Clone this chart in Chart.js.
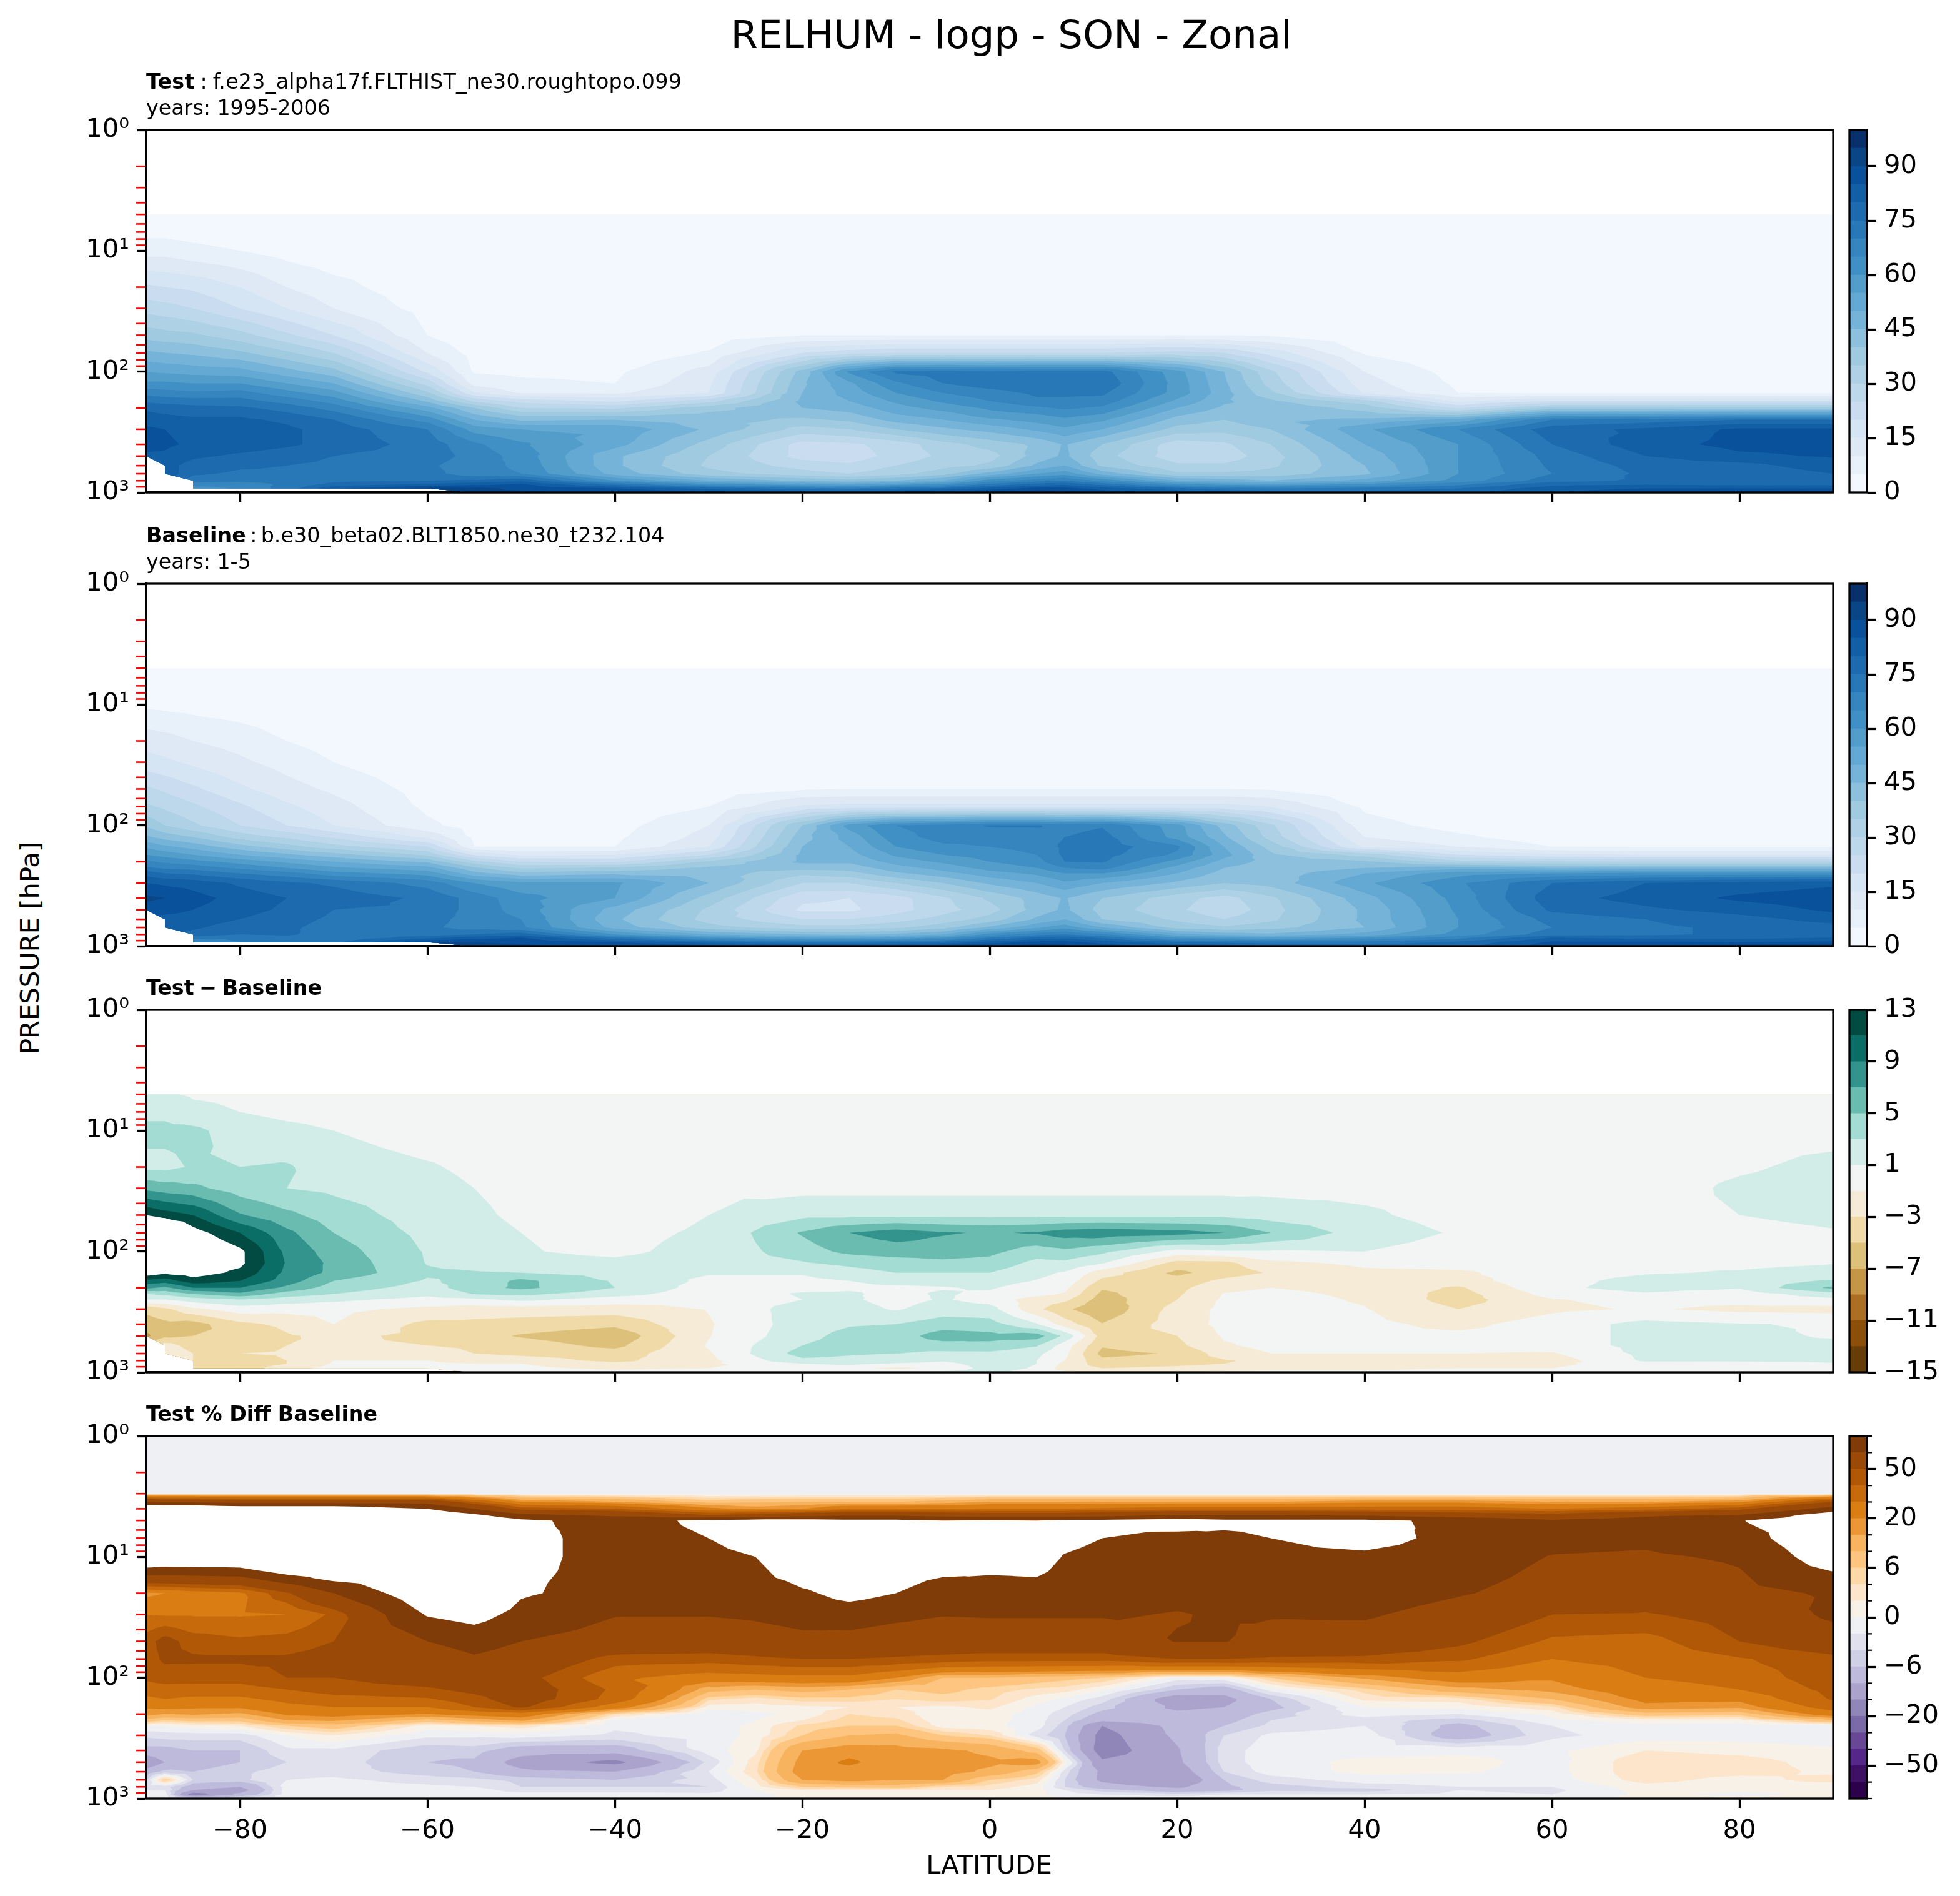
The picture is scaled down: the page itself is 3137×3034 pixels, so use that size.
<!DOCTYPE html>
<html><head><meta charset="utf-8">
<style>
html,body{margin:0;padding:0;background:#fff;width:3137px;height:3034px;overflow:hidden;font-family:"DejaVu Sans",sans-serif;color:#000}
canvas{position:absolute;display:block}
.t{position:absolute;white-space:pre;line-height:1;font-size:33.3px}
.s{letter-spacing:.25px;word-spacing:-2px}
.b{letter-spacing:.08px;word-spacing:-4.5px}
</style>
<script src="https://cdn.jsdelivr.net/npm/chart.js@4/dist/chart.umd.min.js"></script>
</head><body>
<div id="stage"></div>
<div class="t" style="left:0;width:3237px;text-align:center;top:25px;font-size:62.5px">RELHUM - logp - SON - Zonal</div>
<div class="t s" style="left:234px;top:114px"><b>Test</b> : f.e23_alpha17f.FLTHIST_ne30.roughtopo.099</div>
<div class="t" style="left:234px;top:156px">years: 1995-2006</div>
<div class="t b" style="left:234px;top:840px"><b>Baseline</b> : b.e30_beta02.BLT1850.ne30_t232.104</div>
<div class="t" style="left:234px;top:882px">years: 1-5</div>
<div class="t" style="left:234px;top:1564px;word-spacing:-3px"><b>Test − Baseline</b></div>
<div class="t" style="left:234px;top:2246px"><b>Test % Diff Baseline</b></div>
<div class="t" style="left:1383px;width:400px;text-align:center;top:2963px;font-size:41.7px">LATITUDE</div>
<div class="t" style="left:48px;top:1517px;font-size:41.7px;transform:translate(-50%,-50%) rotate(-90deg)">PRESSURE [hPa]</div>
<script>
const _ = null;
const latitudes = [-90,-88,-85,-80,-75,-70,-60,-55,-50,-40,-30,-20,-15,-10,-5,0,5,8,12,20,25,30,40,50,60,70,80,90];
const pctLatitudes = [-90,-88,-85,-80,-75,-70,-60,-55,-50,-40,-30,-25,-20,-15,-10,-5,0,5,8,12,20,25,30,40,50,60,70,80,90];
const pressureLevels = [5,7,10,20,30,50,70,100,125,150,175,200,225,250,300,400,500,600,700,800,850,925,1000];
const pctPressureLevels = [1,3,3.5,4,4.5,5,7,10,20,30,50,70,100,125,150,175,200,225,250,300,400,500,600,700,800,850,925,1000];
const latTicks = [-80,-60,-40,-20,0,20,40,60,80];
const pressureTicks = [1,10,100,1000];
const pressureTickLabels = ['10⁰','10¹','10²','10³'];

const relhumLevels = [0,5,10,15,20,25,30,35,40,45,50,55,60,65,70,75,80,85,90,95,100];
const relhumColors = ['#f3f8fe','#e8f0f9','#dfe9f5','#d6e5f3','#cadcf0','#bcd8ea','#afd1e6','#9fcae0','#8cc0dd','#75b4d8','#64a9d3','#539dcb','#4090c6','#3685bf','#2878b8','#1d6bae','#135fa6','#0a519c','#0a4585','#08306b'];
const relhumTicks = [0,15,30,45,60,75,90];
const diffLevels = [-15,-13,-11,-9,-7,-5,-3,-1,1,3,5,7,9,11,13];
const diffColors = ['#663c07','#8b4f0a','#ab6e23','#c69647','#ddc07a','#efdaa8','#f5ebd6','#f3f5f4','#d2ece8','#a2dcd2','#6abbb0','#32948d','#0a6e67','#014b42'];
const diffTicks = [-15,-11,-7,-3,1,5,9,13];
const pctLevels = [-100,-75,-50,-40,-30,-20,-15,-10,-6,-4,-2,0,2,4,6,10,15,20,30,40,50,75,100];
const pctColors = ['#2d004b','#3e1164','#542788','#684894','#7b6aa8','#9186b8','#aba3cc','#bebadb','#cfd0e5','#e0e1ed','#eff0f4','#f8f1e8','#fce5cb','#fed8a6','#fdc57f','#f8b35f','#eb9735','#da7e14','#c66a0c','#b15806','#9a4a06','#7f3b08'];
const pctTicks = [-50,-20,-6,0,6,20,50];

// one row per latitude, one value per pressure level
const testValues = [
[1,3.5,8,21,28,38,46,55,61,68,74,79,81,83,86,87,84,_,_,_,_,_,_],
[1,3.5,8,20,27,37,45,54,61,67,73,78,80,82,85,86,84,82,84,_,_,_,_],
[1,3,6.5,19,25,36,44,53,60,66,72,77,79,81,83,84,81,78,76,72,68,62,_],
[1,2,5,15,20,32,41,52,60,67,72,76,79,81,83,83,79,76,74,71,68,66,_],
[1,1.5,3,10,15,26,36,47,55,62,68,73,76,79,81,81,77,75,74,72,71,72,_],
[1,1,2,6.5,10,20,30,42,50,57,63,68,72,75,78,78,75,74,74,74,76,84,_],
[1,1,1,2,3,5,10,19,28,36,44,52,58,63,70,73,73,71,72,75,80,92,_],
[1,1,1,1,1,1.5,3,4.5,8,15.5,29,40,45,50,58,66,68,67,67,76,83,91,91],
[1,1,1,1,1,1,2,4,6,9.5,23,30,38,44,55,61,63,64,65,79,85,89,91],
[1,1,1,1,1,1,1,4,5,9,19,29,38,45,54,52,46,46,48,60,72,85,90],
[1,1,1,1,1,2,5.5,12,14,15,28,38,41,42,44,38,35,34,37,50,60,78,88],
[1,1,1,1,2,5,20,42,44,45,46,45,42,39,33,23,23,28,32,44,55,72,86],
[1,1,1,1,2,5,23,61,54,52,50,47,44,41,35,24,22,26,30,42,52,70,86],
[1,1,1,1,2,5,25,71,64,60,56,53,50,47,40,27,27,30,33,45,56,74,88],
[1,1,1,1,2,5,25,72,70,65,61,57,53,50,44,33,31,33,38,50,60,76,90],
[1,1,1,1,2,5,25,71,73,68,65,61,58,54,47,37,33,36,47,63,70,82,92],
[1,1,1,1,2,5,25,72,74,71,69,64,60,57,51,41,42,46,55,68,76,87,94],
[1,1,1,1,2,5,25,72,75,71,69,66,62,59,54,45.5,46,50,58,70,78,87,93],
[1,1,1,1,2,5,25,72,74,71,68,64,60,56,50,40,37,39,48,64,72,83,88],
[1,1,1,1,2,5,27,57,58,58,54,50,46,43,38,27,27,31,36,50,60,76,85],
[1,1,1,1,2,5,25,45,46,47,46,44,42,40,37,29,27,31,36,48,57,72,82],
[1,1,1,1,1.5,4.5,18,31,33,36,41,44,44,44,40,35,33,34,37,45,55,70,80],
[1,1,1,1,1,1,4.5,10,12,14.5,32,38,42,46,54,50,47,45,44,52,60,72,78],
[1,1,1,1,1,1,1,3,4,5,14,24,38,52,65,60,60,60,60,62,68,75,78],
[1,1,1,1,1,1,1,1,2,4.5,20,37,55,70,78,75,72,71,70,73,78,83,85],
[1,1,1,1,1,1,1,1,2,4.5,20,37,56,72,81,83,80,77,76,76,79,85,88],
[1,1,1,1,1,1,1,1,2,4.5,20,38,57,75,86,86.5,84,78,76,76,78,85,92],
[1,1,1,1,1,1,1,1,2,4.5,20,38,57,75,86,87,85.5,83,80,78,78,85,93]
];
const baselineValues = [
[1,1,4,13,17,26,31,39,46,54,60,66,71,78,85,91,88,_,_,_,_,_,_],
[1,1,3.5,12,16,24,29,35,43,51,58,64,69,75,84,90,87,83,84,_,_,_,_],
[1,1,3,10,14,21,26,31,40,48,55,62,68,74,83,87,85,83,81,78,72,65,_],
[1,1,2,8,11,16,21,25,33,42,50,58,64,70,79,83,82,80,77,75,71,70,_],
[1,1,1,5,8,12,16,20,29,37,46,54,60,67,76,80,79,77,76,76,73,72,_],
[1,1,1,3,5,9,12,15,24,32,42,50,56,62,74,78,75,74,73,72,70,74,_],
[1,1,1,1,1,3,4,6,14,25,34,44,52,58,68,74,74,72,71,72,78,90,_],
[1,1,1,1,1,1,2,3,4,5,19,32,41,47,60,68,68,68,68,75,83,90,91],
[1,1,1,1,1,1,2,3,4,5,14,25,34,42,56,62,63,65,66,78,85,89,91],
[1,1,1,1,1,1,2,3,4,5,15,24,36,44,56,55,48,46,48,60,72,85,90],
[1,1,1,1,1,2,5,10,12,15,25,36,41,43,45,38,34,33,37,50,60,78,88],
[1,1,1,1,2,4.5,16,40,43,45,46,46,42,36,30,21,19,25,32,45,55,72,86],
[1,1,1,1,2,5,17,57,52,50,48,46,42,38,30,20,19,25,32,44,54,72,87],
[1,1,1,1,2,5,17,65,63,60,56,52,48,44,35,23,23,28,34,46,56,74,88],
[1,1,1,1,2,5,17,67,67,64,60,56,52,48,40,29,28,32,38,50,60,76,90],
[1,1,1,1,2,5,17,70.5,67,65,62,60,57,53,46,36,33,37,46,62,70,82,92],
[1,1,1,1,2,5,17,70.5,68,67,65,63,60,56,50,42,42,46,54,68,76,87,93],
[1,1,1,1,2,5,17,68,70,71,71,70,65,60,54,45.5,46,50,58,70,78,87,92],
[1,1,1,1,2,5,17,69.5,72,73,72,70.5,67,60,50,40,38,40,50,66,74,83,88],
[1,1,1,1,2,5,17,57,58,66,64,58,53,50,44,32,31,34,38,52,60,76,85],
[1,1,1,1,2,5,17,43,46,50,52,48,45,43,40,28,26,30,36,48,58,74,84],
[1,1,1,1,1.5,4.5,15,31,33,38,41,43,42,42,42,34,33,34,38,46,56,72,80],
[1,1,1,1,1,1,4,7,10,14,33,41,45,50,54,48,46,46,45,52,60,72,78],
[1,1,1,1,1,1,1,3,6,10,20,32,48,58,64,62,61,60,60,62,68,76,78],
[1,1,1,1,1,1,1,1,2,5,16,31,45,60,75,78,76,72,70,73,80,86,88],
[1,1,1,1,1,1,1,1,2,4.5,15,30,46,62,80,82,79,75,74,74,78,86,90],
[1,1,1,1,1,1,1,1,2,4.5,15,30,46,62,82,86,82,78,76,76,78,85,93],
[1,1,1,1,1,1,1,1,2,4.5,15,30,46,62,84,88,86,82,78,76,80,86,95]
];
const diffValues = [
[2,2.5,3.5,2.5,6.5,13,18,22,20,14.5,10.5,7.5,3,1,-4.5,-6,-7.5,_,_,_,_,_,_],
[1.2,2.5,3.5,2.5,6,12,18,22,20,13.5,10,6.5,3.5,1,-3.5,-5.5,-5.5,-2,-1,_,_,_,_],
[.8,1.5,3.5,3.2,5.5,11,14,16,14.5,14,12.2,9,5,2,-1.5,-5.8,-5,-4,-3,-3,-3,-5,_],
[.7,1,2,3,4,7.2,11,13.5,13.5,12.5,11,9,6.5,3,0,-3.5,-5,-4,-3,-4,-4.5,-4.5,_],
[.5,.5,1.5,3.2,3,5.5,7.5,8.5,8.8,8.5,8,6.5,4,2,-.3,-2.5,-3.2,-3,-2.8,-3,-3,-1.5,_],
[.3,.3,1,2,2.6,4,5,6,6.5,6.5,5,4,3,1.5,-.5,-1,-2.5,-2.8,-1.5,-1,-.8,-.5,_],
[0,0,0,1.2,1.7,2,2.4,2.8,2.9,3.3,2.8,2.2,1.5,.3,-1.5,-3.5,-3.5,-3,-1.5,-1,-.8,-.5,_],
[0,0,0,.6,1,1.3,1.6,1.9,2.2,3.2,3.5,4,3.1,.6,-2,-3.5,-4.2,-3.5,-3,-1.5,-1,-.5,0],
[0,0,0,0,.5,.7,1,1.1,1.5,3,5.5,5.5,3.5,1.5,-2,-3.8,-5.2,-4,-3.5,-2,-1,-.5,0],
[0,0,0,0,0,.3,.6,.7,1.3,2.2,2.8,3,1.8,0,-2,-4.5,-6.5,-5.6,-4,-3.5,-2.5,-1.5,0],
[0,0,0,0,.6,1,1.2,1.5,1.8,1.2,.5,0,-.2,-.7,-.9,-1.2,-1.1,-.8,-1.2,-1.5,-1.4,-1,0],
[0,0,0,0,.4,2.5,5.2,4.1,2.8,1.2,.5,.5,1.2,1,2,2,2.3,3,3.8,2.5,1,-.5,0],
[0,0,0,0,.4,2.5,7,5.5,3.5,2.2,1,.8,1.2,1.3,1.8,2.8,3.7,3.9,3.2,2.5,1.5,-.5,.5],
[0,0,0,0,.4,2.5,8,6,4,3,1.5,.7,.6,.3,.8,3,4,3.8,3,2,.8,-1.5,1],
[0,0,0,0,.4,2.5,7.2,6,4.5,3,1.5,.9,1.2,1.2,2,4,6,4.2,2.5,1.2,.5,-.5,1.5],
[0,0,0,0,.4,2.5,6.8,5.5,4.3,3,1.8,1.2,.6,.2,1.8,3.8,5.6,4.5,2.5,2,1.8,1.8,1.5],
[0,0,0,0,.4,2.5,7.2,4,2.4,1.5,.9,0,-.3,-2,-2.5,1.2,6,3.2,1.5,1,1,.8,0],
[0,0,0,0,.4,2.5,8,4.5,2.5,.8,.3,-.5,-1.2,-2.5,-4.6,-2,2.5,0,-.5,-1,-1.5,-2,-.5],
[0,0,0,0,.4,2.5,8.3,3.5,1.1,-2,-3.5,-4.8,-5.5,-6,-6.5,-4.9,-3.8,-4.8,-5.6,-4.5,-4,-3,-1],
[0,0,0,0,.4,2.5,7.8,.2,-3.8,-5.5,-4.2,-3.6,-3.3,-3,-2.2,-2,-3,-3.5,-4.8,-4,-3.5,-2.5,-1],
[0,0,0,0,.4,2.5,7,.8,-3.6,-4,-2.5,-1.5,-.9,-.7,-.5,-.5,-.8,-1.2,-2,-3.2,-3,-2,-.5],
[0,0,0,0,.5,2,5,.8,-1.5,-2.8,-1.6,-1,-.5,-.3,-.3,-.3,-.5,-.5,-1,-2.4,-2.4,-1.5,-.5],
[0,0,0,0,.5,1.3,2,1,-.6,-1.4,-1.6,-1.6,-1.4,-1.2,-.9,-.5,-.5,-.5,-1,-2.6,-2.2,-1.5,-.5],
[0,0,0,0,.2,.3,.8,.2,-.3,-1.3,-1.8,-3.3,-3.8,-3.9,-3,-1.6,-.5,-.5,-1,-1.5,-1.5,-1,-.2],
[0,0,0,0,0,.3,.3,.3,.1,0,.3,.6,-.2,-1.1,-1.4,0,0,0,-1.2,-2,-1.5,-1,-.2],
[0,0,0,0,0,.2,.2,.2,.5,.8,1.7,1.7,.8,-.5,-.8,1.6,1.6,1.6,1.5,1.3,.3,.3,.3],
[0,0,.2,.7,1.4,1,.3,.3,.5,1.2,2.2,1.2,-.1,-.3,-1.5,1.1,1.5,1.5,1.4,1.2,.5,.5,.3],
[0,0,.2,1.6,2,1.6,.8,.6,.9,1.8,3.2,5.5,2.2,.5,-1.7,.8,.8,1.5,1.6,1.2,.9,.9,.6]
];
const pctValues = [
[-1,-.5,75,130,140,140,140,134,18,30,45,45,42,35,28,21,17,8,0,-3.5,-7,-14,-8,-4,-3,-2,-1,-1],
[-1,-.5,70,130,140,140,140,130,20,29,55,52,45,36,30,22,15,6,0,-3,-7,-10,-5,6,-3,-2,-1,-1],
[-1,-.5,70,130,140,140,140,130,24,29,45,52,44,36,28,21,16,7,1,-3,-6,-7.5,-6,-4,-8,-10,-18,-1],
[-1,-.5,65,120,140,140,140,130,28,29,42,52,44,36,28,21,14,7,2,-3,-6,-6,-4.5,-4.5,-10,-12,-9,-1],
[-1,-.5,65,120,140,140,150,150,48,30,44,52,50,40,33,27,21,15,6,0,-2.5,-4,-3,-2,-1,-1,-1,-1],
[-1,-.5,65,120,140,140,150,150,75,42,50,55,50,45,36,30,23,16,8,2,-2.5,-3,-3,-1.5,-1,-1,-1,-1],
[-1,-.5,65,100,120,130,140,140,120,102,75,62,58,48,39,30,20,8,1,-1.5,-5.5,-6,-5,-3,-1.5,-1,-.5,-1],
[-1,-.5,40,75,105,125,140,140,130,110,84,72,60,54,46,40,23,12,2,-1.5,-5,-6.5,-6,-3.5,-2,-1,-1,-1],
[-1,-.5,20,45,80,105,108,108,103,92,75,65,55,58,58,52,25,16,3,-1,-8,-12,-9,-4.5,-4,-3,-1,-1],
[-1,-.5,15,40,70,90,90,90,90,76,65,45,32,38,36,24,4,-1,-1.5,-2.5,-8,-16.5,-10,-6,-4,-3,-1,-1],
[-1,-.5,8,22,50,105,100,85,80,76,62,44,25,12,4.5,1,-2,-2,-1,-1,-1,-3.5,-2,-3,-4,-3,-1.5,-.5],
[-1,-.5,9,18,55,110,125,100,85,78,66,47,26,10,3,1,-.5,0,.5,.5,1.5,3,3.5,2,1,0,-.5,0],
[-1,-.5,10,20,65,110,140,130,95,82,70,50,27,12,5,1.5,.5,2,4.5,6,15,17,18,15,6,2,.5,.5],
[-1,-.5,10,28,70,105,140,135,110,85,68,50,27,10,5,2,4,5,6,10,18,21,18,17,7,2,.5,1],
[-1,-.5,10,28,70,105,130,130,100,80,64,48,20,6,4,2,3,4.5,6,11,17,17,16,15,8,2,.5,.5],
[-1,-.5,12,28,65,100,130,125,80,76,62,46,10,7,5,1.5,.5,.5,1,6,16,17,17,15,4,2,.5,.5],
[-1,-.5,15,30,60,102,110,115,85,77,62,44,10,5,4.2,2.5,1,.8,.5,4,14,16,14,6,3,2,1.5,.5],
[-1,-.5,15,30,60,100,110,115,88,77,62,44,8,3.5,1,-.5,-1,-1,-1,-3,8,17.5,7,3,1,1,.5,.5],
[-1,-.5,15,30,60,105,110,98,85,77,62,44,7,3,-.5,-2,-3,-4,-5,-6,-4,1,-3,-4,-4,-2,-1,.5],
[-1,-.5,15,32,65,105,100,90,83,77,62,44,6,.5,-3,-5,-7,-9,-15,-17,-18,-14,-11,-11,-8,-5,-2,-.5],
[-1,-.5,15,35,75,110,94,85,80,74,76,50,-1,-6,-13,-11,-9,-8,-8.5,-9,-10.5,-11,-13,-15,-11,-8,-3,-.5],
[-1,-.5,15,35,75,105,96,90,82,77,76,50,-.5,-8,-11.5,-10,-8,-7,-6,-4,-3,-3,-4,-6,-6.5,-7,-2,-.5],
[-1,-.5,15,35,75,105,100,95,85,77,66,48,6,-1,-6,-7,-5,-4,-3.5,-1.5,-.8,-.8,-1,-3,-5,-4.5,-2,-.5],
[-1,-.5,18,35,70,105,110,95,88,78,64,47,16,5,2.5,0,-1,-3,-2,-1,-.8,.5,.5,-1,-3,-5,-2,-.5],
[-1,-.5,18,35,60,95,92,88,77,65,53,42,25,13,3,.5,-2,-5,-7,-8,-.5,.8,.3,-1,-2,-2,-1.5,-.5],
[-1,-.5,15,30,55,78,82,74,66,50,38,30,21,17,10,3.5,.5,-.5,-2,-2.5,-.5,-.8,-.8,-1,-2,-2.5,-2,-.5],
[-1,-.5,15,35,70,85,80,72,57,49,36,34,30,25,22,18,8,1,-.5,-1,2,3.5,3.5,3,1,.8,.5,.5],
[-1,-.5,18,45,75,99,90,78,68,55,50,39,34,30,22,16,7,1,-1,-1,1.3,3,3,1,.7,.5,-.5,.7],
[-1,-.5,50,85,115,115,120,115,78,80,62,46,46,43,41,35,25,9,-.8,-1.5,.5,1,1.5,3,.5,.7,.5,.5]
];

const FONT = {family:'"DejaVu Sans"', size:41.7};
const SPINE = 3.3;
const PLOT_W = 2700, PLOT_H = 580, PLOT_L = 234;
const stage = document.getElementById('stage');
Chart.defaults.animation = false;
Chart.defaults.color = '#000';

function addCanvas(left, top, w, h){
  const c = document.createElement('canvas');
  c.width = w; c.height = h;
  c.style.left = left+'px'; c.style.top = top+'px';
  c.style.width = w+'px'; c.style.height = h+'px';
  stage.appendChild(c);
  return c.getContext('2d');
}
function clipAt(poly, level){
  const out = [];
  for(let i=0;i<poly.length;i++){
    const a = poly[i], b = poly[(i+1)%poly.length];
    const ia = a[2] >= level, ib = b[2] >= level;
    if(ia) out.push(a);
    if(ia !== ib){
      const t = (level-a[2])/(b[2]-a[2]);
      out.push([a[0]+t*(b[0]-a[0]), a[1]+t*(b[1]-a[1]), level]);
    }
  }
  return out;
}
function contourPlugin(lats, plevs, grid, levels, colors){
  return {
    id:'contourFill',
    beforeDatasetsDraw(chart){
      const {ctx, chartArea:a, scales} = chart;
      const tris = [];
      const V = (i,j)=>{
        const v = grid[i][j];
        return v===null ? null : [scales.x.getPixelForValue(lats[i]), scales.y.getPixelForValue(plevs[j]), v];
      };
      for(let i=0;i<lats.length-1;i++) for(let j=0;j<plevs.length-1;j++){
        const q = [V(i,j),V(i+1,j),V(i+1,j+1),V(i,j+1)];
        const ok = q.filter(Boolean);
        if(ok.length===4){
          const c = [0,1,2].map(k=>(q[0][k]+q[1][k]+q[2][k]+q[3][k])/4);
          for(let k=0;k<4;k++) tris.push([q[k],q[(k+1)%4],c]);
        } else if(ok.length===3){ tris.push(ok); }
      }
      ctx.save();
      ctx.beginPath(); ctx.rect(a.left,a.top,a.width,a.height); ctx.clip();
      levels.forEach((lv,k)=>{
        ctx.beginPath();
        for(const t of tris){
          const p = clipAt(t,lv);
          if(p.length<3) continue;
          ctx.moveTo(p[0][0],p[0][1]);
          for(let m=1;m<p.length;m++) ctx.lineTo(p[m][0],p[m][1]);
          ctx.closePath();
        }
        ctx.fillStyle = k<colors.length ? colors[k] : '#fff';
        ctx.fill();
      });
      ctx.restore();
    }
  };
}
const framePlugin = {
  id:'frame',
  afterDraw(chart){
    const {ctx, chartArea:a} = chart;
    ctx.save();
    ctx.strokeStyle='#000'; ctx.lineWidth=SPINE;
    ctx.strokeRect(a.left,a.top,a.width,a.height);
    ctx.restore();
  }
};
const redTicks = {
  id:'redTicks',
  afterDraw(chart){
    const {ctx, chartArea:a, scales} = chart;
    ctx.save(); ctx.strokeStyle='#ff0000'; ctx.lineWidth=2.6;
    for(const dec of [1,10,100]) for(let m=2;m<=9;m++){
      const y = scales.y.getPixelForValue(dec*m);
      ctx.beginPath(); ctx.moveTo(a.left-16,y); ctx.lineTo(a.left,y); ctx.stroke();
    }
    ctx.restore();
  }
};
function addPanel(top, lats, plevs, grid, levels, colors, withLabels){
  const M = 130, PAD = 60, B = 90;
  const ctx = addCanvas(PLOT_L-M, top-PAD, PLOT_W+M+PAD, PLOT_H+PAD+B);
  const pts = [];
  lats.forEach((lat,i)=>plevs.forEach((p,j)=>{ if(grid[i][j]!==null) pts.push({x:lat,y:p}); }));
  new Chart(ctx,{
    type:'scatter',
    data:{datasets:[{data:pts,pointRadius:0,showLine:false}]},
    options:{
      responsive:false, devicePixelRatio:1, animation:false,
      layout:{padding:{top:PAD,right:PAD,left:0,bottom:0}},
      plugins:{legend:{display:false},title:{display:false},tooltip:{enabled:false}},
      scales:{
        x:{type:'linear',min:-90,max:90,
          afterBuildTicks:s=>{s.ticks=latTicks.map(v=>({value:v}));},
          afterFit:s=>{s.height=B;},
          grid:{drawOnChartArea:false,tickLength:15,tickColor:'#000',tickWidth:SPINE},
          border:{color:'#000',width:SPINE},
          ticks:{display:withLabels,autoSkip:false,maxRotation:0,font:FONT,color:'#000',padding:12,
            callback:v=>(v<0?'−'+Math.abs(v):String(v))}},
        y:{type:'logarithmic',min:1,max:1000,reverse:true,
          afterBuildTicks:s=>{s.ticks=pressureTicks.map(v=>({value:v,major:true}));},
          afterFit:s=>{s.width=M;},
          grid:{drawOnChartArea:false,tickLength:15,tickColor:'#000',tickWidth:SPINE},
          border:{color:'#000',width:SPINE},
          ticks:{autoSkip:false,font:FONT,color:'#000',padding:12,
            callback:v=>pressureTickLabels[pressureTicks.indexOf(v)]||''}}
      }
    },
    plugins:[contourPlugin(lats,plevs,grid,levels,colors),redTicks,framePlugin]
  });
}
function addColorbar(top, levels, colors, tickValues, evenSpacing){
  const L=10, W=28, PAD=60, AX=149;
  const ctx = addCanvas(2960-L, top-PAD, L+W+AX, PLOT_H+2*PAD);
  const pos = v=> evenSpacing ? levels.indexOf(v) : v;
  const datasets = colors.map((c,i)=>({data:[[pos(levels[i]),pos(levels[i+1])]],backgroundColor:c,borderWidth:0,barPercentage:1,categoryPercentage:1}));
  const ticksPos = tickValues.map(pos);
  const minorTicks = {
    id:'minorTicks',
    afterDraw(chart){
      if(!evenSpacing) return;
      const {ctx,chartArea:a,scales}=chart;
      ctx.save(); ctx.strokeStyle='#000'; ctx.lineWidth=2.2;
      levels.forEach((lv,i)=>{
        if(tickValues.includes(lv)) return;
        const y=scales.y.getPixelForValue(i);
        ctx.beginPath(); ctx.moveTo(a.right,y); ctx.lineTo(a.right+8,y); ctx.stroke();
      });
      ctx.restore();
    }
  };
  new Chart(ctx,{
    type:'bar',
    data:{labels:['bands'],datasets},
    options:{
      responsive:false, devicePixelRatio:1, animation:false,
      layout:{padding:{top:PAD,bottom:PAD,left:L,right:0}},
      plugins:{legend:{display:false},title:{display:false},tooltip:{enabled:false}},
      scales:{
        x:{display:false,stacked:true},
        y:{type:'linear',position:'right',stacked:false,
          min:pos(levels[0]),max:pos(levels[levels.length-1]),
          afterBuildTicks:s=>{s.ticks=ticksPos.map(v=>({value:v}));},
          afterFit:s=>{s.width=AX;},
          grid:{drawOnChartArea:false,tickLength:15,tickColor:'#000',tickWidth:SPINE},
          border:{color:'#000',width:SPINE},
          ticks:{autoSkip:false,font:FONT,color:'#000',padding:12,
            callback:v=>{const x=tickValues[ticksPos.indexOf(v)];return x<0?'−'+Math.abs(x):String(x);}}}
      }
    },
    plugins:[minorTicks,framePlugin]
  });
}
addPanel(208, latitudes, pressureLevels, testValues, relhumLevels, relhumColors, false);
addColorbar(208, relhumLevels, relhumColors, relhumTicks, false);
addPanel(934, latitudes, pressureLevels, baselineValues, relhumLevels, relhumColors, false);
addColorbar(934, relhumLevels, relhumColors, relhumTicks, false);
addPanel(1616, latitudes, pressureLevels, diffValues, diffLevels, diffColors, false);
addColorbar(1616, diffLevels, diffColors, diffTicks, false);
addPanel(2298, pctLatitudes, pctPressureLevels, pctValues, pctLevels, pctColors, true);
addColorbar(2298, pctLevels, pctColors, pctTicks, true);
</script>
</body></html>
